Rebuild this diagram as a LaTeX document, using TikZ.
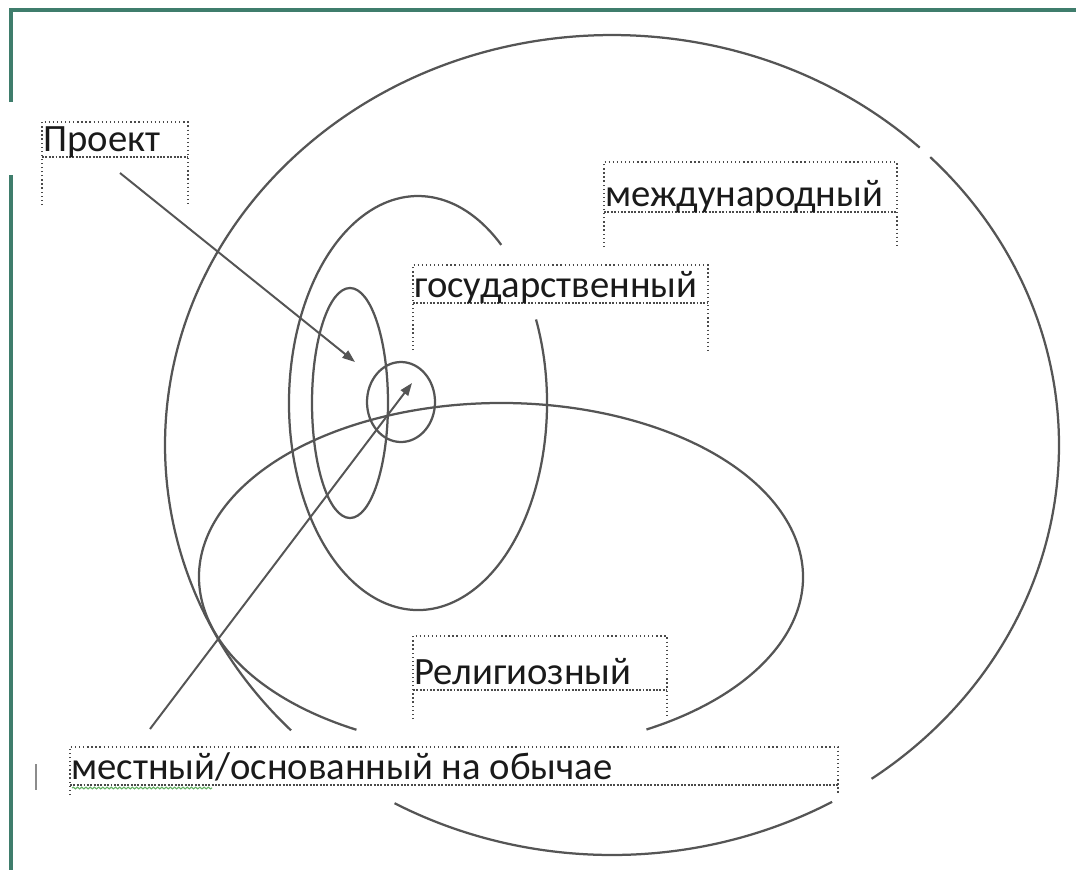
\documentclass[tikz,border=0pt]{standalone}
\usepackage{fontspec}
\setmainfont{Carlito}
\usetikzlibrary{arrows.meta, decorations.pathmorphing}

\begin{document}
\begin{tikzpicture}[
    x=0.025cm, y=-0.025cm,
    every node/.style={font=\fontsize{27.5}{31}\selectfont, inner sep=0pt},
]

% ---------------------------------------------------------------- colours
\definecolor{framegreen}{HTML}{3F7D6C}   % the page frame
\definecolor{ringcolor}{HTML}{555555}    % the ellipses and arrows
\definecolor{boxcolor}{HTML}{4A4A4A}
\definecolor{textcolor}{HTML}{1A1A1A}
\definecolor{spellgreen}{HTML}{62B062}

\tikzset{
    ring/.style={ringcolor, line width=1.6pt},
    boxedge/.style={boxcolor, line width=0.9pt, dotted},
    boxline/.style={boxcolor, line width=1.4pt, densely dotted},
    pointer/.style={ringcolor, line width=1.4pt, -{Triangle[length=9pt, width=6.5pt]}},
}

\useasboundingbox (0,0) rectangle (1076,870);

% ================================================================
% pixel grid, y downwards
%   international  centre (612,445)  radii 447 / 410
%   state          centre (418,403)  radii 129 / 207
%   religious      centre (501,577)  radii 302 / 174
% ================================================================

% page frame
\draw[framegreen, line width=2.8pt] (11,102) -- (11,10) -- (1076,10);
\draw[framegreen, line width=2.8pt] (11,175) -- (11,870);

% international (broken where the frames sit on it)
\draw[ring] (612,445) ++(-44.6:447 and 410)
    arc[start angle=-44.6, end angle=54.5, x radius=447, y radius=410];
\draw[ring] (612,445) ++(60.5:447 and 410)
    arc[start angle=60.5, end angle=119.1, x radius=447, y radius=410];
\draw[ring] (612,445) ++(135.9:447 and 410)
    arc[start angle=135.9, end angle=313.5, x radius=447, y radius=410];

% state
\draw[ring] (418,403) ++(-23.8:129 and 207)
    arc[start angle=-23.8, end angle=310.2, x radius=129, y radius=207];

% religious
\draw[ring] (501,577) ++(118.6:302 and 174)
    arc[start angle=118.6, end angle=421.2, x radius=302, y radius=174];

% project and local
\draw[ring] (350,403) ellipse[x radius=38, y radius=115];
\draw[ring] (401,402) ellipse[x radius=34, y radius=40];

% frames: name / left / right / top / underline / bottom / text
\foreach \n/\xa/\xb/\ya/\yb/\yc/\t in {%
    proj/42/188/122/157/205/{Проект},
    intl/604/897/162/212/247/{международный},
    state/413/708/265/303/350/{государственный},
    relig/413/667/636/690/719/{Религиозный},
    local/70/838/747/785/795/{местный/основанный на обычае}%
} {
    \fill[white] (\xa,\ya) rectangle (\xb,\yb);
    \draw[boxedge] (\xa,\yc) -- (\xa,\ya) -- (\xb,\ya) -- (\xb,\yc);
    \draw[boxline] (\xa,\yb) -- (\xb,\yb);
    \node[anchor=base west, text=textcolor] (\n) at (\xa+1,\yb-6) {\t};
}

% spelling mark and cursor
\draw[spellgreen, line width=0.8pt, decorate,
    decoration={snake, amplitude=0.6pt, segment length=3pt}] (72,788) -- (212,788);
\draw[black!45, line width=1pt] (36,764) -- (36,790);

% arrows
\coordinate (projtail) at (120,173);
\coordinate (projtip) at (355,362);
\coordinate (localtail) at (150,729);
\coordinate (localtip) at (412,383);

\draw[pointer] (projtail) -- (projtip);
\draw[pointer] (localtail) -- (localtip);

\end{tikzpicture}
\end{document}
